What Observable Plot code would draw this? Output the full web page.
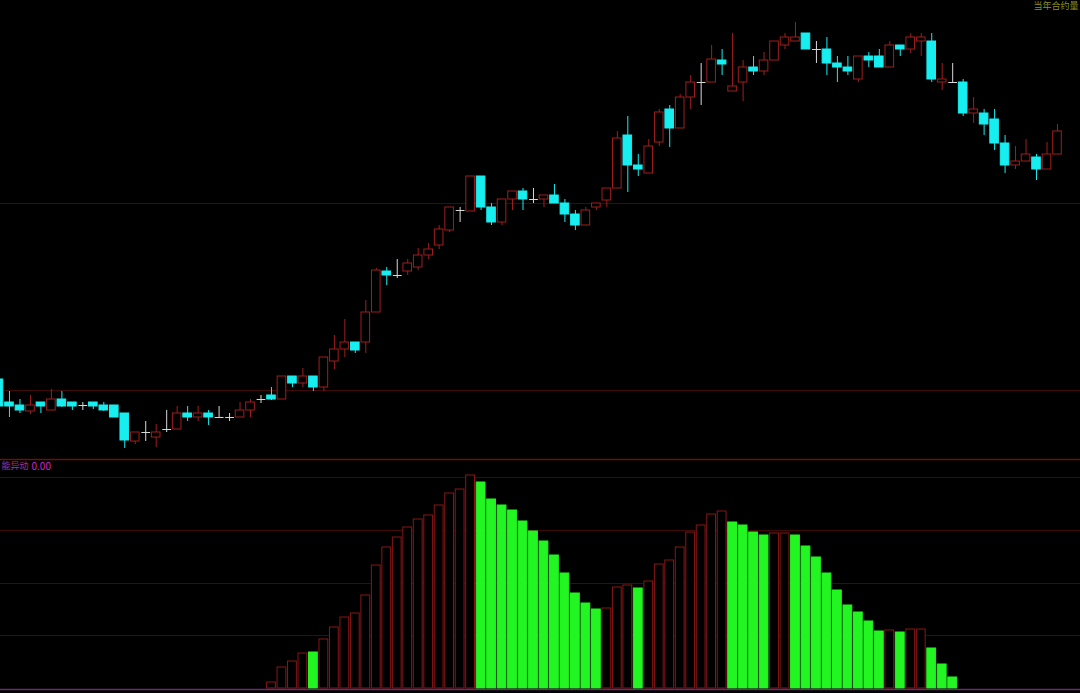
<!DOCTYPE html>
<html>
<head>
<meta charset="utf-8">
<script src="https://cdn.jsdelivr.net/npm/d3@7"></script>
<script src="https://cdn.jsdelivr.net/npm/@observablehq/plot@0.6"></script>
<style>
  html, body { margin: 0; padding: 0; background: #000; }
  #chart { width: 1080px; height: 693px; overflow: hidden; background: #000; }
  #chart svg { display: block; }
</style>
</head>
<body>
<div id="chart"></div>
<script>
// ---- Candlestick data (index 0..101) ----
const open  = [3081,3058,3055,3049,3058,3050,3061,3058,3055,3058,3055,3055,3047,3019,3028,3023,3031,3031,3047,3043,
               3047,3043,3043,3043,3050,3061,3065,3061,3084,3077,3084,3073,3099,3111,3118,3118,3148,3189,3185,3189,
               3193,3205,3215,3230,3250,3249,3284,3253,3238,3261,3269,3261,3261,3265,3257,3246,3235,3253,3260,3272,
               3325,3295,3287,3318,3351,3332,3363,3378,3378,3400,3369,3378,3393,3389,3400,3415,3419,3427,3411,3411,
               3397,3393,3381,3404,3404,3393,3415,3411,3419,3419,3378,3378,3378,3347,3347,3341,3317,3295,3299,3303,
               3291,3306];
const high  = [3082,3069,3061,3065,3058,3071,3069,3058,3058,3058,3058,3055,3047,3028,3039,3036,3050,3054,3054,3054,
               3050,3054,3047,3058,3061,3065,3073,3084,3084,3092,3084,3103,3125,3141,3118,3160,3192,3193,3201,3201,
               3212,3217,3235,3253,3253,3284,3284,3257,3261,3269,3272,3272,3265,3276,3261,3250,3253,3257,3272,3329,
               3344,3306,3321,3351,3355,3366,3385,3397,3415,3411,3427,3400,3404,3408,3419,3427,3438,3427,3419,3423,
               3404,3404,3404,3408,3411,3419,3415,3427,3427,3427,3397,3397,3381,3363,3351,3351,3325,3314,3321,3306,
               3318,3336];
const low   = [3052,3043,3047,3046,3047,3050,3053,3050,3050,3051,3049,3043,3012,3016,3019,3013,3028,3031,3039,3039,
               3035,3043,3039,3043,3043,3057,3060,3061,3073,3073,3069,3069,3091,3103,3107,3107,3148,3175,3182,3185,
               3190,3201,3211,3228,3238,3249,3250,3235,3235,3250,3250,3257,3253,3257,3238,3230,3235,3250,3253,3272,
               3268,3284,3287,3314,3313,3332,3351,3355,3378,3385,3369,3359,3385,3385,3400,3411,3419,3411,3397,3385,
               3378,3385,3378,3393,3393,3393,3404,3407,3404,3378,3370,3378,3344,3337,3325,3310,3287,3291,3299,3280,
               3291,3306];
const close = [3054,3054,3050,3055,3054,3061,3054,3054,3055,3054,3050,3043,3020,3028,3028,3028,3031,3047,3043,3047,
               3043,3043,3043,3050,3058,3061,3061,3084,3077,3084,3073,3103,3111,3118,3110,3148,3190,3185,3185,3197,
               3205,3211,3231,3253,3250,3284,3253,3238,3261,3269,3261,3261,3265,3257,3246,3235,3250,3257,3272,3322,
               3295,3291,3314,3348,3332,3363,3378,3378,3401,3396,3374,3393,3389,3400,3419,3423,3423,3411,3411,3397,
               3393,3389,3404,3400,3393,3415,3411,3423,3423,3381,3381,3378,3347,3351,3336,3317,3295,3299,3306,3291,
               3306,3329];
const priceGrid = [3070, 3257];

// ---- Lower indicator: bars from index 26 to 91 ----
const barStart = 26;
const barValues = [6,21,27,35,36,49,61,71,75,93,123,141,151,161,169,173,183,195,199,213,
                   206,189,183,178,167,157,147,133,115,95,85,79,
                   80,101,103,100,
                   107,124,128,141,156,163,174,177,
                   166,163,156,153,
                   155,155,
                   153,142,131,115,98,83,76,67,57,
                   58,56,59,59,40,24,11];
const barKind = "RRRRGRRRRRRRRRRRRRRR" + "GGGGGGGGGGGG" + "RRRG" + "RRRRRRRR" + "GGGG" + "RR" + "GGGGGGGGG" + "R" + "G" + "RR" + "GGG";
const indGrid = [53, 105, 158, 211];
const indLabel = "能异动";
const indValue = "0.00";
const topRightLabel = "当年合约量";

// ---- Build tables ----
const candles = open.map((o, i) => ({i, open: o, high: high[i], low: low[i], close: close[i]}));
const bars = barValues.map((v, j) => ({i: barStart + j, v, k: barKind[j]}));

const RED = "#a01e1e", CYAN = "#16eef0", WHITE = "#d8d8d8", GREEN = "#22f522", BARRED = "#881616";
const GRID = "#420909";
const colorOf = d => d.close > d.open ? RED : d.close < d.open ? CYAN : WHITE;

const xDomain = [1.5 / 10.48, 1081.5 / 10.48];
const font = "'Noto Sans CJK SC', 'Noto Sans', sans-serif";

const priceChart = Plot.plot({
  width: 1080, height: 460, margin: 0,
  x: {type: "linear", domain: xDomain, axis: null},
  y: {domain: [3000, 3460], axis: null},
  color: {type: "identity"},
  style: {background: "#000", fontFamily: font, overflow: "visible"},
  marks: [
    Plot.ruleY(priceGrid, {stroke: GRID, strokeWidth: 1}),
    Plot.ruleY([3001], {stroke: "#641212", strokeWidth: 1.5}),
    Plot.ruleX(candles, {x: "i", y1: "low", y2: "high", stroke: colorOf, strokeWidth: 1}),
    Plot.rect(candles.filter(d => d.close !== d.open), {
      x1: d => d.i - 0.41, x2: d => d.i + 0.41, y1: "open", y2: "close",
      fill: d => d.close > d.open ? "#000" : CYAN, stroke: colorOf, strokeWidth: 1
    }),
    Plot.link(candles.filter(d => d.close === d.open), {
      x1: d => d.i - 0.42, x2: d => d.i + 0.42, y1: "close", y2: "close", stroke: WHITE, strokeWidth: 1
    }),
    Plot.text([topRightLabel], {frameAnchor: "top-right", dx: -2, dy: 2, text: d => d, fill: "#8f8f22", fontSize: 9, textAnchor: "end"})
  ]
});

const indicatorChart = Plot.plot({
  width: 1080, height: 233, margin: 0,
  x: {type: "linear", domain: xDomain, axis: null},
  y: {domain: [-5, 228], axis: null},
  color: {type: "identity"},
  style: {background: "#000", fontFamily: font, overflow: "visible"},
  marks: [
    Plot.ruleY(indGrid, {stroke: GRID, strokeWidth: 1}),
    Plot.rectY(bars, {
      x1: d => d.i - 0.42, x2: d => d.i + 0.42, y1: 0, y2: "v",
      fill: d => d.k === "G" ? GREEN : "#000",
      stroke: d => d.k === "G" ? GREEN : BARRED, strokeWidth: 1
    }),
    Plot.ruleY([-1], {stroke: "#6e2a6e", strokeWidth: 1.5}),
    Plot.text([indLabel], {frameAnchor: "top-left", dx: 1, dy: 2, text: d => d, fill: "#a8309a", fontSize: 9, textAnchor: "start"}),
    Plot.text([indValue], {frameAnchor: "top-left", dx: 31, dy: 2, text: d => d, fill: "#d024d0", fontSize: 10, textAnchor: "start"})
  ]
});

const chart = document.getElementById("chart");
chart.appendChild(priceChart);
chart.appendChild(indicatorChart);
</script>
</body>
</html>
